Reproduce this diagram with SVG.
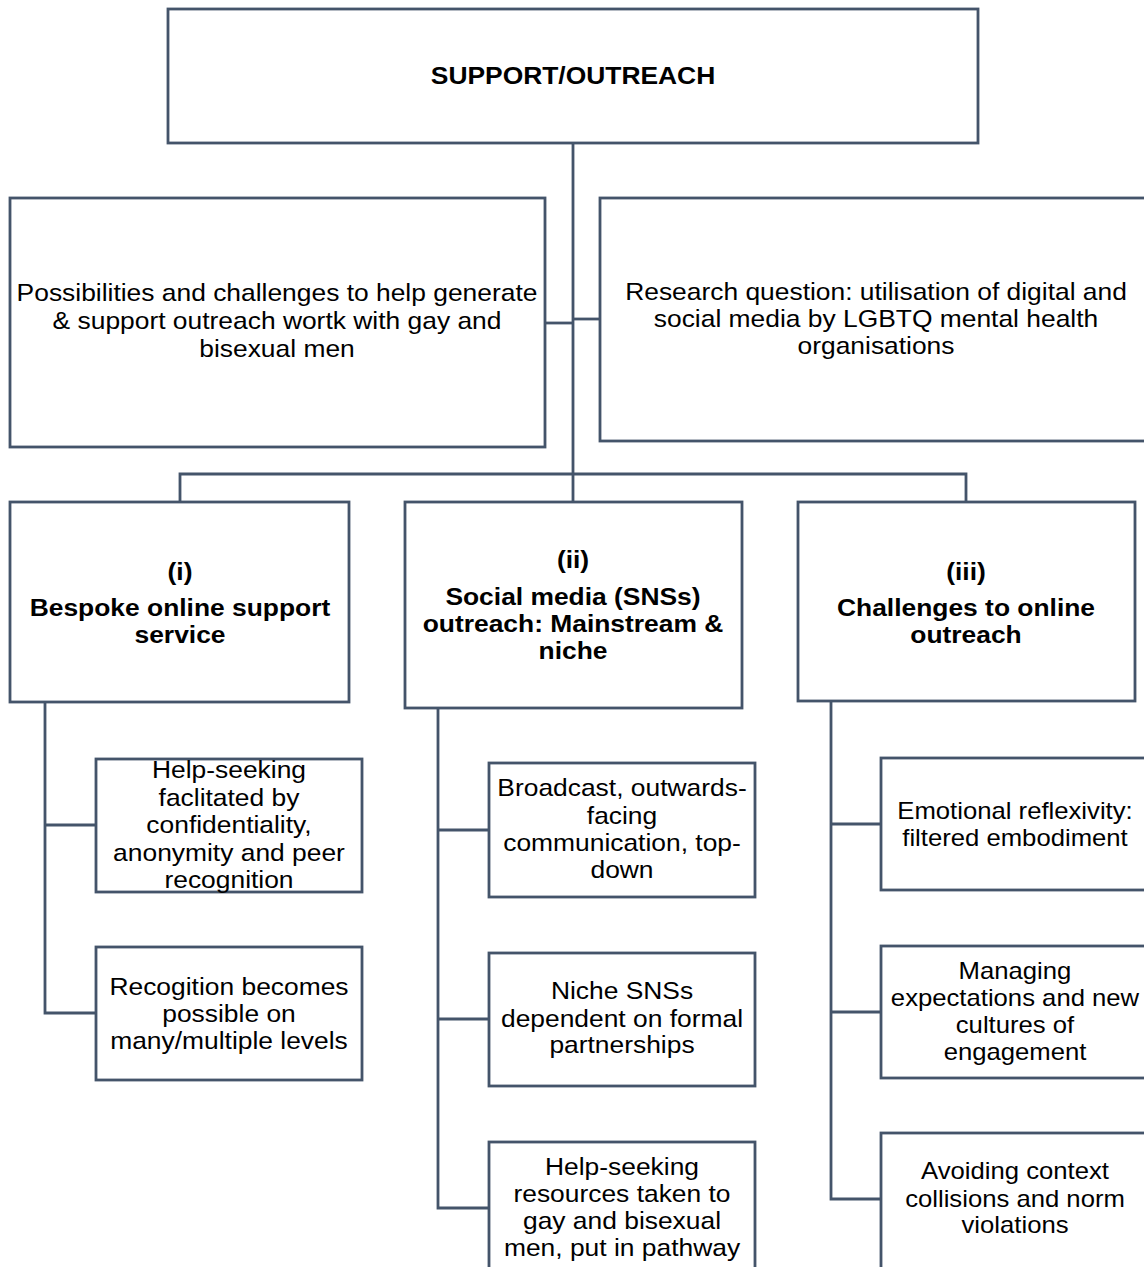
<svg xmlns="http://www.w3.org/2000/svg" width="1144" height="1267" viewBox="0 0 1144 1267">
<style>
.box{fill:#ffffff;stroke:#44546A;stroke-width:2.8}
.ln{fill:none;stroke:#44546A;stroke-width:2.8}
text{font-family:"Liberation Sans",Arial,sans-serif;font-size:24px;fill:#000;text-anchor:middle}
.b{font-weight:bold}
</style>
<rect width="1144" height="1267" fill="#ffffff"/>
<g id="connectors">
<path class="ln" d="M573,143 V502"/>
<path class="ln" d="M545,323 H573"/>
<path class="ln" d="M573,319 H600"/>
<path class="ln" d="M180,502 V474 H966 V502"/>
<path class="ln" d="M45,702 V1013 H96 M45,825 H96"/>
<path class="ln" d="M438,708 V1208 H489 M438,830 H489 M438,1019 H489"/>
<path class="ln" d="M831,701 V1199 H881 M831,824 H881 M831,1012 H881"/>
</g>
<g id="root">
<rect class="box" x="168" y="9" width="810" height="134"/>
<g transform="translate(573,0) scale(1.1,1)"><text class="b" x="0" y="84">SUPPORT/OUTREACH</text></g>
</g>
<g id="possibilities">
<rect class="box" x="10" y="198" width="535" height="249"/>
<g transform="translate(277,0) scale(1.1,1)">
<text x="0" y="301">Possibilities and challenges to help generate</text>
<text x="0" y="329">&amp; support outreach wortk with gay and</text>
<text x="0" y="357">bisexual men</text>
</g>
</g>
<g id="research">
<rect class="box" x="600" y="198" width="552" height="243"/>
<g transform="translate(876,0) scale(1.1,1)">
<text x="0" y="300">Research question: utilisation of digital and</text>
<text x="0" y="327">social media by LGBTQ mental health</text>
<text x="0" y="354">organisations</text>
</g>
</g>
<g id="theme1">
<rect class="box" x="10" y="502" width="339" height="200"/>
<g transform="translate(180,0) scale(1.1,1)">
<text class="b" x="0" y="580">(i)</text>
<text class="b" x="0" y="616">Bespoke online support</text>
<text class="b" x="0" y="643">service</text>
</g>
</g>
<g id="theme2">
<rect class="box" x="405" y="502" width="337" height="206"/>
<g transform="translate(573,0) scale(1.1,1)">
<text class="b" x="0" y="568">(ii)</text>
<text class="b" x="0" y="605">Social media (SNSs)</text>
<text class="b" x="0" y="632">outreach: Mainstream &amp;</text>
<text class="b" x="0" y="659">niche</text>
</g>
</g>
<g id="theme3">
<rect class="box" x="798" y="502" width="337" height="199"/>
<g transform="translate(966,0) scale(1.1,1)">
<text class="b" x="0" y="580">(iii)</text>
<text class="b" x="0" y="616">Challenges to online</text>
<text class="b" x="0" y="643">outreach</text>
</g>
</g>
<g id="t1a">
<rect class="box" x="96" y="759" width="266" height="133"/>
<g transform="translate(229,0) scale(1.1,1)">
<text x="0" y="778">Help-seeking</text>
<text x="0" y="806">faclitated by</text>
<text x="0" y="833">confidentiality,</text>
<text x="0" y="861">anonymity and peer</text>
<text x="0" y="888">recognition</text>
</g>
</g>
<g id="t1b">
<rect class="box" x="96" y="947" width="266" height="133"/>
<g transform="translate(229,0) scale(1.1,1)">
<text x="0" y="995">Recogition becomes</text>
<text x="0" y="1022">possible on</text>
<text x="0" y="1049">many/multiple levels</text>
</g>
</g>
<g id="t2a">
<rect class="box" x="489" y="763" width="266" height="134"/>
<g transform="translate(622,0) scale(1.1,1)">
<text x="0" y="796">Broadcast, outwards-</text>
<text x="0" y="824">facing</text>
<text x="0" y="851">communication, top-</text>
<text x="0" y="878">down</text>
</g>
</g>
<g id="t2b">
<rect class="box" x="489" y="953" width="266" height="133"/>
<g transform="translate(622,0) scale(1.1,1)">
<text x="0" y="999">Niche SNSs</text>
<text x="0" y="1027">dependent on formal</text>
<text x="0" y="1053">partnerships</text>
</g>
</g>
<g id="t2c">
<rect class="box" x="489" y="1142" width="266" height="140"/>
<g transform="translate(622,0) scale(1.1,1)">
<text x="0" y="1175">Help-seeking</text>
<text x="0" y="1202">resources taken to</text>
<text x="0" y="1229">gay and bisexual</text>
<text x="0" y="1256">men, put in pathway</text>
</g>
</g>
<g id="t3a">
<rect class="box" x="881" y="758" width="269" height="132"/>
<g transform="translate(1015,0) scale(1.07,1)">
<text x="0" y="819">Emotional reflexivity:</text>
<text x="0" y="846">filtered embodiment</text>
</g>
</g>
<g id="t3b">
<rect class="box" x="881" y="946" width="269" height="132"/>
<g transform="translate(1015,0) scale(1.07,1)">
<text x="0" y="979">Managing</text>
<text x="0" y="1006">expectations and new</text>
<text x="0" y="1033">cultures of</text>
<text x="0" y="1060">engagement</text>
</g>
</g>
<g id="t3c">
<rect class="box" x="881" y="1133" width="269" height="150"/>
<g transform="translate(1015,0) scale(1.07,1)">
<text x="0" y="1179">Avoiding context</text>
<text x="0" y="1207">collisions and norm</text>
<text x="0" y="1233">violations</text>
</g>
</g>
</svg>
